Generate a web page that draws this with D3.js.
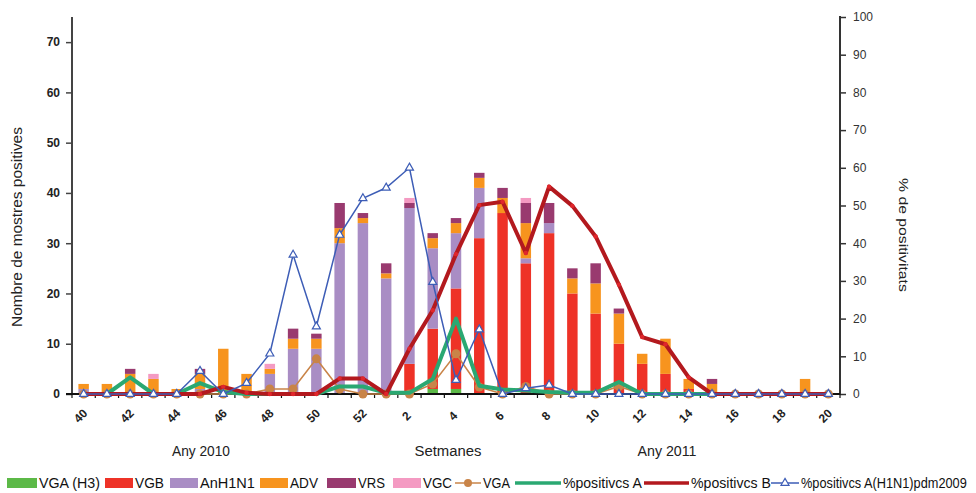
<!DOCTYPE html>
<html>
<head>
<meta charset="utf-8">
<script src="https://cdn.jsdelivr.net/npm/d3@7"></script>
<style>
  html, body { margin: 0; padding: 0; background: #fff; }
  svg { display: block; }
</style>
</head>
<body>
<svg id="chart" width="976" height="493"></svg>
<script>
// Epidemiological weeks, autumn 2010 to spring 2011
const weeks = ["40","41","42","43","44","45","46","47","48","49","50","51","52",
               "1","2","3","4","5","6","7","8","9","10","11","12","13","14","15","16","17","18","19","20"];
const tickWeeks = ["40","42","44","46","48","50","52","2","4","6","8","10","12","14","16","18","20"];

// Positive samples per virus (counts, left axis)
const vgaH3  = [0,0,0,0,0,0,0,0,0,0,0,0,0,0,0,1,1,0,0,0,0,0,0,0,0,0,0,0,0,0,0,0,0];
const vgb    = [0,0,0,0,0,0,0,0,0,0,0,0,0,0,6,12,20,31,36,26,32,20,16,10,6,4,1,0,0,0,0,0,0];
const anh1n1 = [1,0,0,0,0,1,0,0,4,9,9,30,34,23,31,16,11,10,0,1,2,0,0,0,0,0,0,0,0,0,0,0,0];
const adv    = [1,2,4,3,1,3,9,4,1,2,2,3,1,1,0,2,2,2,3,7,0,3,6,6,2,7,2,2,0,0,0,3,0];
const vrs    = [0,0,1,0,0,1,0,0,0,2,1,5,1,2,1,1,1,1,2,4,4,2,4,1,0,0,0,1,0,0,0,0,0];
const vgc    = [0,0,0,1,0,0,0,0,1,0,0,0,0,0,1,0,0,0,0,1,0,0,0,0,0,0,0,0,0,0,0,0,0];

// Influenza A samples (counts, left axis)
const vgaLine = [0,0,0,0,0,0,0,0,1,1,7,1,0,0,0,2,8,1.4,0,1.5,0,0,0,1.5,0,0,0,0,0,0,0,0,0];

// Positivity rates (%, right axis)
const pctA    = [0,0,4.4,0,0,2.9,0.5,0,0,0,0,2,2,0.3,0.3,4,20,2.2,1.2,0.9,0.5,0.3,0.3,3.2,0,0,0,0,0,0,0,0,0];
const pctB    = [0,0,0,0,0,0,1.9,0.3,0,0,0,4.1,4.1,0,12,22.2,37.1,50.1,51,37.4,55,49.9,41.8,29,15.1,13.2,4.4,0,0,0,0,0,0];
const pctH1N1 = [0,0,0,0,0,6.1,0,2.9,10.7,36.9,17.9,42.2,51.9,54.7,60,29.7,3.7,17.1,0,1.5,2.4,0,0,0,0,0,0,0,0,0,0,0,0];

const leftTicks  = [0,10,20,30,40,50,60,70];
const rightTicks = [0,10,20,30,40,50,60,70,80,90,100];

const barKeys = ["VGA (H3)","VGB","AnH1N1","ADV","VRS","VGC"];
const barColors = {
  "VGA (H3)": "#5cb947",
  "VGB": "#ee3227",
  "AnH1N1": "#a98dc4",
  "ADV": "#f7941e",
  "VRS": "#993a6f",
  "VGC": "#f49ac2"
};
const colVGA = "#c98448", colA = "#2aa872", colB = "#b3191e", colH1 = "#3d5db6";

const rows = weeks.map((w, i) => ({
  week: w,
  "VGA (H3)": vgaH3[i], "VGB": vgb[i], "AnH1N1": anh1n1[i],
  "ADV": adv[i], "VRS": vrs[i], "VGC": vgc[i]
}));

const svg = d3.select("#chart");
const plotL = 72, plotR = 840, plotT = 17, plotB = 394;

const x = d3.scaleBand().domain(weeks).range([plotL, plotR]).paddingInner(0.55).paddingOuter(0.275);
const yL = d3.scaleLinear().domain([0, 75]).range([plotB, plotT]);
const yR = d3.scaleLinear().domain([0, 100]).range([plotB, plotT]);
const cx = w => x(w) + x.bandwidth() / 2;

// Condensed text: draw at natural size, then squeeze horizontally to a target width
function squeezedText(parent, str, px, py, width, opts) {
  const g = parent.append("g");
  const t = g.append("text").attr("x", 0).attr("y", 0)
    .attr("font-family", opts.font).attr("font-size", opts.size).attr("fill", opts.fill || "#222")
    .text(str);
  const natural = t.node().getComputedTextLength();
  const k = width / natural;
  const anchorShift = opts.anchor === "middle" ? -width / 2 : 0;
  g.attr("transform", `translate(${px},${py}) rotate(${opts.rotate || 0}) translate(${anchorShift},0) scale(${k},1)`);
  return g;
}

// Stacked bars
const series = d3.stack().keys(barKeys)(rows);
svg.append("g").selectAll("g").data(series).join("g")
  .attr("fill", d => barColors[d.key])
  .selectAll("rect").data(d => d).join("rect")
  .attr("x", d => x(d.data.week))
  .attr("width", x.bandwidth())
  .attr("y", d => yL(d[1]))
  .attr("height", d => yL(d[0]) - yL(d[1]));

// Axes
const axisFont = "Liberation Sans, Arial, sans-serif";
const gL = svg.append("g").attr("transform", `translate(${plotL},0)`)
  .call(d3.axisLeft(yL).tickValues(leftTicks).tickSize(6).tickPadding(6).tickSizeOuter(0));
gL.select(".domain").attr("stroke", "#444").attr("stroke-width", 2).attr("d", `M0,${plotT}V${plotB}`);
gL.selectAll(".tick line").attr("stroke", "#444").attr("stroke-width", 1.5);
gL.selectAll(".tick text").attr("font-family", axisFont).attr("font-size", 12)
  .attr("font-weight", "bold").attr("fill", "#222");

const gR = svg.append("g").attr("transform", `translate(${plotR},0)`)
  .call(d3.axisRight(yR).tickValues(rightTicks).tickSize(6).tickPadding(7).tickSizeOuter(0));
gR.select(".domain").attr("stroke", "#333").attr("stroke-width", 2).attr("d", `M0,${plotT - 1}V${plotB + 1}`);
gR.selectAll(".tick line").attr("stroke", "#333").attr("stroke-width", 1.5);
gR.selectAll(".tick text").attr("font-family", axisFont).attr("font-size", 12).attr("fill", "#333");

// Bottom axis with week-boundary ticks and rotated labels
const gB = svg.append("g");
gB.append("line").attr("x1", plotL - 6).attr("x2", plotR).attr("y1", plotB).attr("y2", plotB)
  .attr("stroke", "#111").attr("stroke-width", 2);
const bounds = weeks.map(w => cx(w) - x.step() / 2).concat([cx(weeks[weeks.length - 1]) + x.step() / 2]);
gB.selectAll("line.tk").data(bounds).join("line").attr("class", "tk")
  .attr("x1", d => d).attr("x2", d => d).attr("y1", plotB).attr("y2", plotB + 4)
  .attr("stroke", "#111").attr("stroke-width", 1.2);
gB.selectAll("text").data(tickWeeks).join("text")
  .attr("transform", d => `translate(${cx(d) - 3},${plotB + 22}) rotate(-45)`)
  .attr("text-anchor", "middle").attr("dominant-baseline", "central")
  .attr("font-family", axisFont).attr("font-size", 12).attr("font-weight", "bold").attr("fill", "#222")
  .text(d => d);

// Lines
const lineL = d3.line().x((d, i) => cx(weeks[i])).y(d => yL(d));
const lineR = d3.line().x((d, i) => cx(weeks[i])).y(d => yR(d));

const gVGA = svg.append("g");
gVGA.append("path").attr("d", lineL(vgaLine)).attr("fill", "none").attr("stroke", colVGA).attr("stroke-width", 1.6);
gVGA.selectAll("circle").data(vgaLine).join("circle")
  .attr("cx", (d, i) => cx(weeks[i])).attr("cy", d => yL(d)).attr("r", 4.5).attr("fill", colVGA);

svg.append("path").attr("d", lineR(pctA)).attr("fill", "none").attr("stroke", colA)
  .attr("stroke-width", 4).attr("stroke-linejoin", "round");

const gB2 = svg.append("g");
gB2.append("path").attr("d", lineR(pctB)).attr("fill", "none").attr("stroke", colB)
  .attr("stroke-width", 4).attr("stroke-linejoin", "round");
gB2.selectAll("circle").data(pctB).join("circle")
  .attr("cx", (d, i) => cx(weeks[i])).attr("cy", d => yR(d)).attr("r", 2.2).attr("fill", "#e0262b");

const gH = svg.append("g");
gH.append("path").attr("d", lineR(pctH1N1)).attr("fill", "none").attr("stroke", colH1).attr("stroke-width", 1.5);
const tri = d3.symbol().type(d3.symbolTriangle).size(28);
gH.selectAll("path.m").data(pctH1N1).join("path").attr("class", "m")
  .attr("d", tri)
  .attr("transform", (d, i) => `translate(${cx(weeks[i])},${yR(d)})`)
  .attr("fill", "#fff").attr("stroke", colH1).attr("stroke-width", 1.2);

// Titles
const textFont = "Liberation Sans, Arial, sans-serif";
squeezedText(svg, "Nombre de mostres positives", 22, 227, 200,
  { font: textFont, size: 15, anchor: "middle", rotate: -90 });
squeezedText(svg, "% de positivitats", 899, 235, 114,
  { font: axisFont, size: 13, anchor: "middle", rotate: 90 });

const bottomTitles = [
  { t: "Any 2010", x: 201, w: 58 },
  { t: "Setmanes", x: 448, w: 67 },
  { t: "Any 2011", x: 667, w: 59 }
];
bottomTitles.forEach(d => squeezedText(svg, d.t, d.x, 456, d.w, { font: textFont, size: 15, anchor: "middle" }));

// Legend
const legendItems = [
  { label: "VGA (H3)", kind: "rect", color: barColors["VGA (H3)"], x0: 7, x1: 37, tw: 61 },
  { label: "VGB", kind: "rect", color: barColors["VGB"], x0: 105, x1: 133, tw: 29 },
  { label: "AnH1N1", kind: "rect", color: barColors["AnH1N1"], x0: 170, x1: 198, tw: 55 },
  { label: "ADV", kind: "rect", color: barColors["ADV"], x0: 260, x1: 288, tw: 28 },
  { label: "VRS", kind: "rect", color: barColors["VRS"], x0: 327, x1: 356, tw: 27 },
  { label: "VGC", kind: "rect", color: barColors["VGC"], x0: 393, x1: 421, tw: 29 },
  { label: "VGA", kind: "dot", color: colVGA, x0: 455, x1: 481, tw: 27 },
  { label: "%positivcs A", kind: "thick", color: colA, x0: 515, x1: 561, tw: 79 },
  { label: "%positivcs B", kind: "thick", color: colB, x0: 644, x1: 689, tw: 80 },
  { label: "%positivcs A(H1N1)pdm2009", kind: "tri", color: colH1, x0: 771, x1: 799, tw: 166 }
];
const ly = 483;
const lg = svg.append("g");
legendItems.forEach(it => {
  if (it.kind === "rect") {
    lg.append("rect").attr("x", it.x0).attr("y", ly - 5).attr("width", it.x1 - it.x0).attr("height", 10).attr("fill", it.color);
  } else {
    lg.append("line").attr("x1", it.x0).attr("x2", it.x1).attr("y1", ly).attr("y2", ly)
      .attr("stroke", it.color).attr("stroke-width", it.kind === "thick" ? 3.5 : 1.5);
    const mx = (it.x0 + it.x1) / 2;
    if (it.kind === "dot") lg.append("circle").attr("cx", mx).attr("cy", ly).attr("r", 4).attr("fill", it.color);
    if (it.kind === "tri") lg.append("path").attr("d", tri).attr("transform", `translate(${mx},${ly})`)
      .attr("fill", "#fff").attr("stroke", it.color).attr("stroke-width", 1.2);
  }
  squeezedText(lg, it.label, it.x1 + 2, ly + 5, it.tw, { font: textFont, size: 14, fill: "#111" });
});
</script>
</body>
</html>
